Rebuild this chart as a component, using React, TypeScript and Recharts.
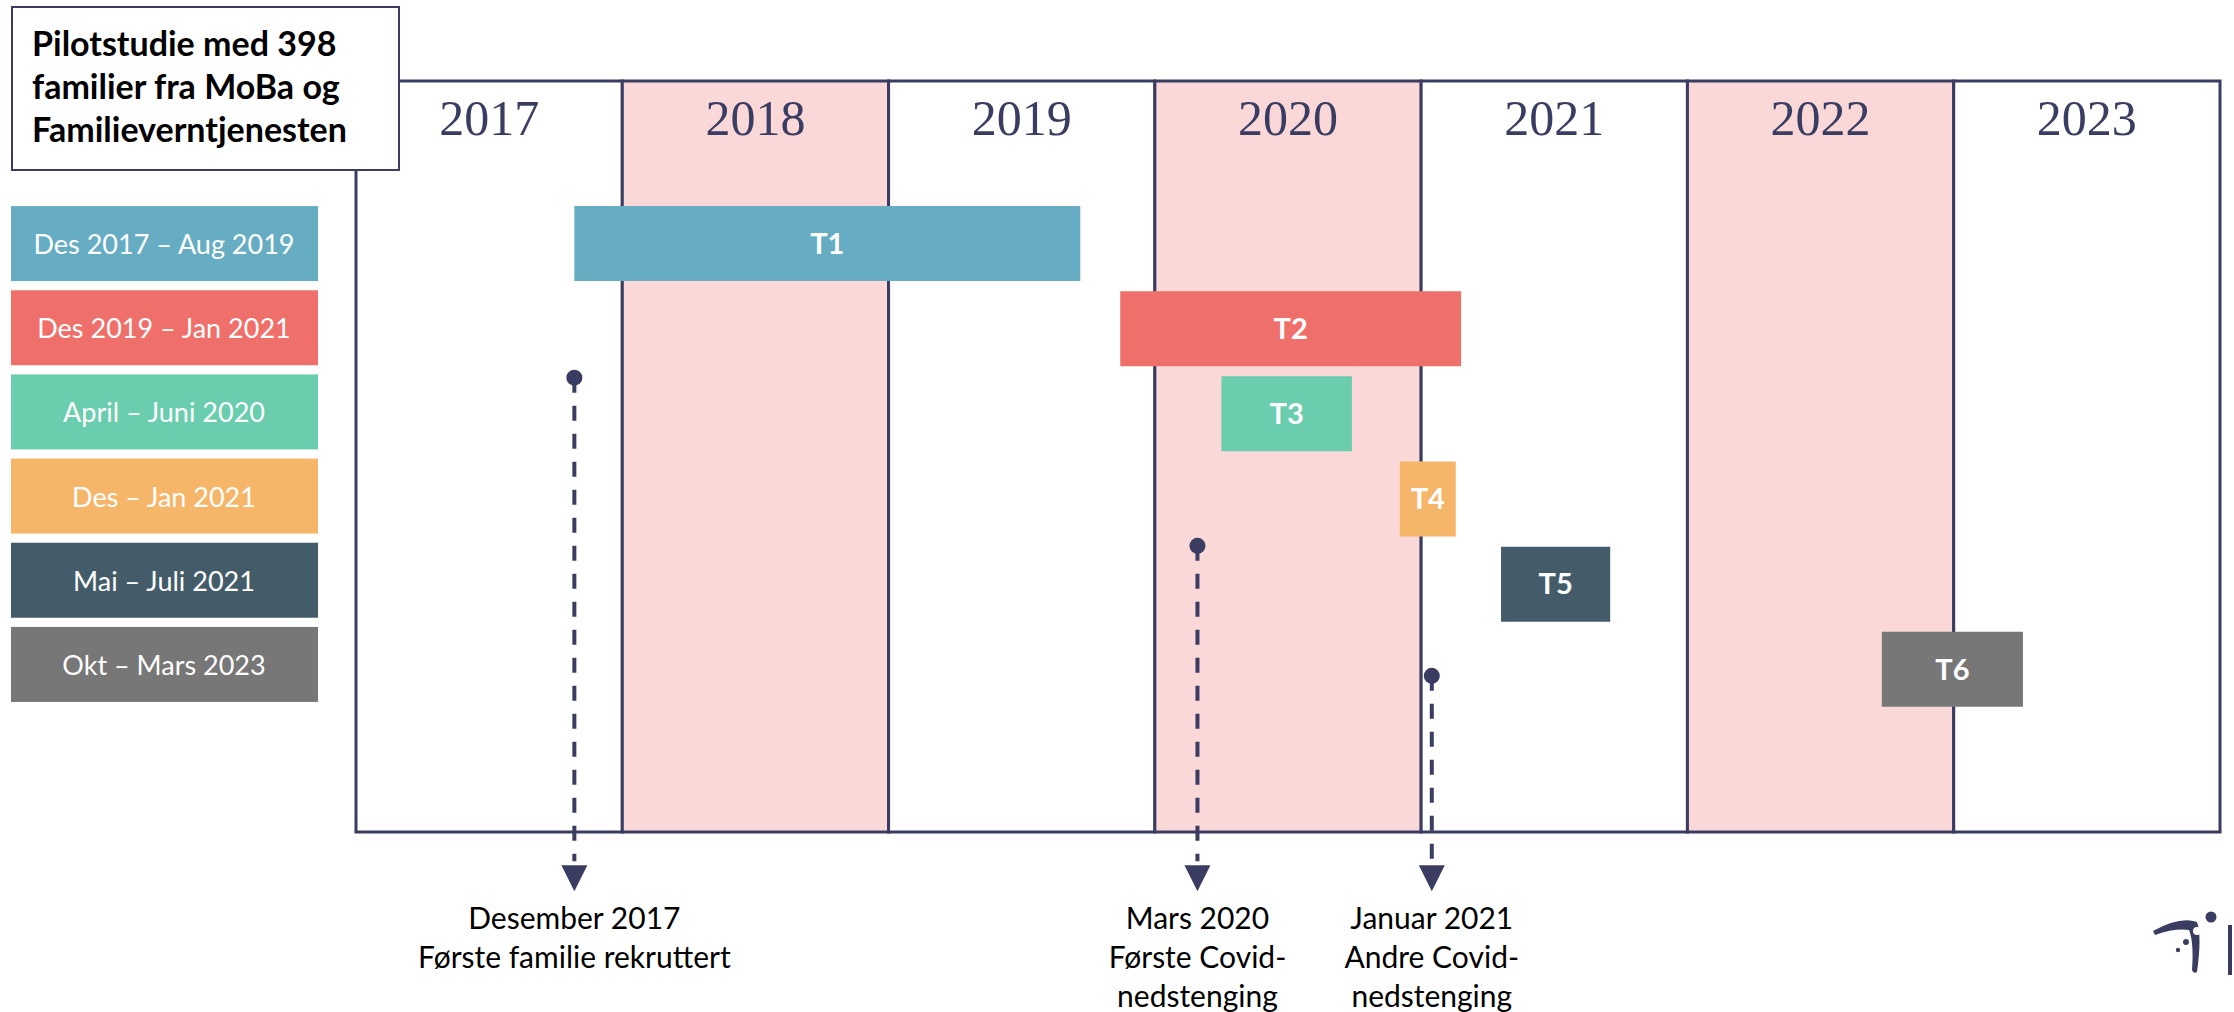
import React from 'react';
import {
  ComposedChart,
  Bar,
  Cell,
  XAxis,
  YAxis,
  ReferenceArea,
  ReferenceLine,
  ReferenceDot,
  LabelList,
} from 'recharts';

// years shown as columns across the top
const years = [2017, 2018, 2019, 2020, 2021, 2022, 2023];
const shadedYears = [2018, 2020, 2022];

// data collection waves (decimal years)
const waveNames = ['T1', 'T2', 'T3', 'T4', 'T5', 'T6'];
const waveLabels = [
  'Des 2017 – Aug 2019',
  'Des 2019 – Jan 2021',
  'April – Juni 2020',
  'Des – Jan 2021',
  'Mai – Juli 2021',
  'Okt – Mars 2023',
];
const waveStart = [2017.82, 2019.87, 2020.25, 2020.92, 2021.3, 2022.73];
const waveEnd = [2019.72, 2021.15, 2020.74, 2021.13, 2021.71, 2023.26];
const waveColors = ['#66adc4', '#ef706a', '#69cdae', '#f6b66a', '#445c69', '#777777'];

// events marked with dashed arrows
const eventDates = [2017.82, 2020.16, 2021.04];
const eventDotLevels = [0.395, 0.619, 0.792]; // share of frame height, from top
const eventTitles = ['Desember 2017', 'Mars 2020', 'Januar 2021'];
const eventNotes = [
  ['Første familie rekruttert'],
  ['Første Covid-', 'nedstenging'],
  ['Andre Covid-', 'nedstenging'],
];

const NAVY = '#3a3c62';
const PINK = '#f9d8d7';
const TIP_LEVEL = 1.079;
const ARROW_LEN = 26;

const rows = waveNames.map((name, i) => ({
  name,
  label: waveLabels[i],
  span: [waveStart[i], waveEnd[i]],
}));

const LegendTick = (props: any) => {
  const { y, payload } = props;
  const i = waveNames.indexOf(payload.value);
  return (
    <g>
      <rect x={11} y={y - 37.5 - i * 1} width={307} height={75} fill={waveColors[i]} />
      <text
        x={164}
        y={y - i * 1}
        textAnchor="middle"
        dominantBaseline="central"
        fill="#fff"
        fontSize={27}
        fontFamily="Lato, sans-serif"
      >
        {waveLabels[i]}
      </text>
    </g>
  );
};

const makeArrow = (idx: number) => (props: any) => {
  const { cx, cy } = props;
  const lines = [eventTitles[idx], ...eventNotes[idx]];
  return (
    <g>
      <polygon
        points={`${cx - 13},${cy - ARROW_LEN} ${cx + 13},${cy - ARROW_LEN} ${cx},${cy}`}
        fill={NAVY}
      />
      {lines.map((t, k) => (
        <text
          key={k}
          x={cx}
          y={cy + 26 + k * 39}
          textAnchor="middle"
          dominantBaseline="central"
          fill="#000"
          fontSize={30}
          fontFamily="Lato, sans-serif"
        >
          {t}
        </text>
      ))}
    </g>
  );
};

const App: React.FC = () => {
  return (
    <div style={{ position: 'absolute', left: 0, top: 0, width: 2234, height: 1012, background: '#fff' }}>
      <ComposedChart
        width={2234}
        height={1012}
        layout="vertical"
        data={rows}
        margin={{ top: 81, right: 14, bottom: 180, left: 0 }}
        style={{ fontFamily: 'Lato, sans-serif' }}
      >
        <XAxis type="number" domain={[2017, 2024]} hide allowDataOverflow />
        <YAxis
          yAxisId="rows"
          type="category"
          dataKey="name"
          width={356}
          axisLine={false}
          tickLine={false}
          padding={{ top: 120, bottom: 120 }}
          tick={<LegendTick />}
        />
        <YAxis yAxisId="ev" dataKey="frameLevel" type="number" domain={[0, 1]} hide allowDataOverflow />

        {/* year columns: fill, outline and year label */}
        {years.map((y) => (
          <ReferenceArea
            key={y}
            yAxisId="ev"
            x1={y}
            x2={y + 1}
            fill={shadedYears.includes(y) ? PINK : '#fff'}
            fillOpacity={1}
            stroke={NAVY}
            strokeWidth={3}
            label={{
              value: String(y),
              position: 'insideTop',
              offset: 18,
              fill: NAVY,
              fontSize: 50,
              fontFamily: '"Liberation Serif", serif',
            }}
          />
        ))}

        <Bar dataKey="span" yAxisId="rows" barSize={75} isAnimationActive={false}>
          {rows.map((r, i) => (
            <Cell key={r.name} fill={waveColors[i]} />
          ))}
          <LabelList
            dataKey="name"
            position="center"
            fill="#fff"
            fontSize={29}
            fontWeight={700}
            fontFamily="Lato, sans-serif"
          />
        </Bar>

        {eventDates.map((d, i) => (
          <ReferenceLine
            key={`l${i}`}
            yAxisId="ev"
            ifOverflow="visible"
            segment={[
              { x: d, y: eventDotLevels[i] },
              { x: d, y: TIP_LEVEL - 0.04 },
            ]}
            stroke={NAVY}
            strokeWidth={4}
            strokeDasharray="15 13"
          />
        ))}
        {eventDates.map((d, i) => (
          <ReferenceDot
            key={`d${i}`}
            yAxisId="ev"
            x={d}
            y={eventDotLevels[i]}
            r={8}
            fill={NAVY}
            stroke="none"
            ifOverflow="visible"
          />
        ))}
        {eventDates.map((d, i) => (
          <ReferenceDot
            key={`a${i}`}
            yAxisId="ev"
            x={d}
            y={TIP_LEVEL}
            ifOverflow="visible"
            shape={makeArrow(i)}
          />
        ))}
      </ComposedChart>

      <div
        style={{
          position: 'absolute',
          left: 11,
          top: 6,
          width: 385,
          height: 148,
          border: `2px solid ${NAVY}`,
          background: '#fff',
          boxSizing: 'content-box',
          padding: '13px 0 0 0',
          fontFamily: 'Lato, sans-serif',
          fontWeight: 700,
          fontSize: 34,
          lineHeight: '43px',
          color: '#000',
          whiteSpace: 'nowrap',
        }}
      >
        <div style={{ paddingLeft: 19 }}>
          Pilotstudie med 398
          <br />
          familier fra MoBa og
          <br />
          Familieverntjenesten
        </div>
      </div>

      <svg style={{ position: 'absolute', left: 2140, top: 900 }} width={94} height={90}>
        <path d="M13,31 Q40,16 57,22 Q62,36 57,72 Q53,74 52,70 Q54,42 49,30 Q35,28 15,35 Z" fill={NAVY} />
        <circle cx={71} cy={17} r={5.5} fill={NAVY} />
        <circle cx={57} cy={31} r={4} fill="#fff" />
        <circle cx={46} cy={42} r={3} fill={NAVY} />
        <circle cx={38} cy={50} r={2.2} fill={NAVY} />
        <rect x={88} y={25} width={4} height={50} fill={NAVY} />
      </svg>
    </div>
  );
};

export default App;
